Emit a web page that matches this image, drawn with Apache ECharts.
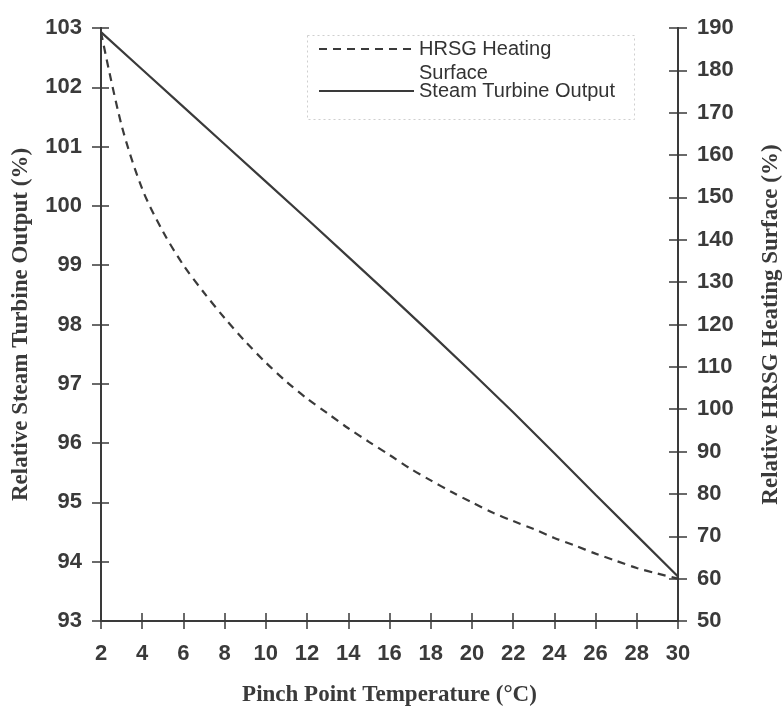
<!DOCTYPE html>
<html>
<head>
<meta charset="utf-8">
<script src="https://cdn.jsdelivr.net/npm/echarts@6/dist/echarts.min.js"></script>
<style>
html, body { margin: 0; padding: 0; background: #fff; }
#chart { width: 784px; height: 707px; }
</style>
</head>
<body>
<div id="chart"></div>
<script>
// pinch point temperature (°C)
var tempSteam = [2, 4, 6, 8, 10, 12, 14, 16, 18, 20, 22, 24, 26, 28, 30];
var tempHrsg = [2, 3, 4, 5, 6, 7, 8, 9, 10, 11, 12, 13, 14, 15, 16, 17, 18, 19, 20, 21, 22, 23, 24, 25, 26, 27, 28, 29, 30];
// relative steam turbine output (%), left axis
var steamOutput = [102.93, 102.30, 101.67, 101.04, 100.41, 99.78, 99.14, 98.50, 97.85, 97.19, 96.52, 95.83, 95.13, 94.44, 93.75];
// relative HRSG heating surface (%), right axis
var hrsgSurface = [189, 167, 152, 142, 134, 127.5, 121.5, 116, 111, 106.5, 102.5, 99, 95.5, 92.3, 89.2, 86, 83.2, 80.5, 78, 75.6, 73.6, 71.7, 69.6, 67.8, 65.9, 64.2, 62.5, 61.2, 60];

var seriesNames = ['HRSG Heating Surface', 'Steam Turbine Output'];

var ink = '#3a3a3a';
var labelFont = {
    fontFamily: 'Liberation Sans',
    fontWeight: 'bold',
    fontSize: 22,
    color: '#3a3a3a'
};
var titleFont = {
    fontFamily: 'Liberation Serif',
    fontWeight: 'bold',
    fontSize: 23,
    color: '#3a3a3a'
};

function zip(xs, ys) {
    var out = [];
    for (var i = 0; i < xs.length; i++) {
        out.push([xs[i], ys[i]]);
    }
    return out;
}

// second copy of an axis, drawn on top of the first, giving the inner half of the crossing ticks
function innerTicks(base, len) {
    return Object.assign({
        type: 'value',
        axisLine: { show: true, onZero: false, lineStyle: { color: ink, width: 2 } },
        axisTick: { show: true, inside: true, length: len, lineStyle: { color: ink, width: 1.5 } },
        axisLabel: { show: false },
        splitLine: { show: false }
    }, base);
}

var chart = echarts.init(document.getElementById('chart'));

var option = {
    animation: false,
    backgroundColor: '#fff',
    grid: {
        left: 101,
        right: 106,
        top: 28,
        bottom: 86,
        outerBoundsMode: 'none'
    },
    legend: {
        orient: 'vertical',
        left: 318,
        top: 13,
        padding: 0,
        itemWidth: 95,
        itemHeight: 14,
        itemGap: -6,
        itemStyle: { opacity: 0 },
        textStyle: {
            fontFamily: 'Liberation Sans',
            fontSize: 20,
            color: '#333',
            lineHeight: 24
        },
        formatter: function (name) {
            // blank first line keeps "HRSG Heating" level with its line sample
            return name === seriesNames[0] ? '\nHRSG Heating\nSurface' : name;
        },
        data: seriesNames
    },
    graphic: [{
        type: 'rect',
        left: 305,
        top: 33,
        z: -1,
        shape: { width: 327, height: 84 },
        style: { fill: 'none', stroke: '#cfcfcf', lineWidth: 1, lineDash: [2, 3] }
    }],
    xAxis: [
        {
            type: 'value',
            position: 'bottom',
            min: 2,
            max: 30,
            interval: 2,
            name: 'Pinch Point Temperature (°C)',
            nameLocation: 'middle',
            nameGap: 63,
            nameTextStyle: titleFont,
            axisLine: { onZero: false, lineStyle: { color: ink, width: 2 } },
            axisTick: { length: 8, lineStyle: { color: ink, width: 1.5 } },
            axisLabel: Object.assign({ margin: 22 }, labelFont),
            splitLine: { show: false }
        },
        innerTicks({ position: 'bottom', min: 2, max: 30, interval: 2 }, 8)
    ],
    yAxis: [
        {
            type: 'value',
            position: 'left',
            min: 93,
            max: 103,
            interval: 1,
            name: 'Relative Steam Turbine Output (%)',
            nameLocation: 'middle',
            nameGap: 68,
            nameTextStyle: titleFont,
            axisLine: { show: true, onZero: false, lineStyle: { color: ink, width: 2 } },
            axisTick: { show: true, length: 9, lineStyle: { color: ink, width: 1.5 } },
            axisLabel: Object.assign({ margin: 19 }, labelFont),
            splitLine: { show: false }
        },
        {
            type: 'value',
            position: 'right',
            min: 50,
            max: 190,
            interval: 10,
            name: 'Relative HRSG Heating Surface (%)',
            nameLocation: 'middle',
            nameRotate: 90,
            nameGap: 82,
            nameTextStyle: titleFont,
            axisLine: { show: true, onZero: false, lineStyle: { color: ink, width: 2 } },
            axisTick: { show: true, length: 9, lineStyle: { color: ink, width: 1.5 } },
            axisLabel: Object.assign({ margin: 19 }, labelFont),
            splitLine: { show: false }
        },
        innerTicks({ position: 'left', min: 93, max: 103, interval: 1 }, 8),
        innerTicks({ position: 'right', min: 50, max: 190, interval: 10 }, 9)
    ],
    series: [
        {
            name: seriesNames[0],
            type: 'line',
            xAxisIndex: 1,
            yAxisIndex: 1,
            symbol: 'none',
            smooth: 0.3,
            lineStyle: { color: ink, width: 2.2, type: [8, 6] },
            itemStyle: { color: ink },
            data: zip(tempHrsg, hrsgSurface)
        },
        {
            name: seriesNames[1],
            type: 'line',
            xAxisIndex: 0,
            yAxisIndex: 0,
            symbol: 'none',
            lineStyle: { color: ink, width: 2.2 },
            itemStyle: { color: ink },
            data: zip(tempSteam, steamOutput)
        },
        // invisible copies that keep the two tick-only y axes in use
        {
            type: 'line',
            xAxisIndex: 0,
            yAxisIndex: 2,
            symbol: 'none',
            silent: true,
            lineStyle: { opacity: 0 },
            data: zip(tempSteam, steamOutput)
        },
        {
            type: 'line',
            xAxisIndex: 1,
            yAxisIndex: 3,
            symbol: 'none',
            silent: true,
            lineStyle: { opacity: 0 },
            data: zip(tempHrsg, hrsgSurface)
        }
    ]
};

chart.setOption(option);
</script>
</body>
</html>
